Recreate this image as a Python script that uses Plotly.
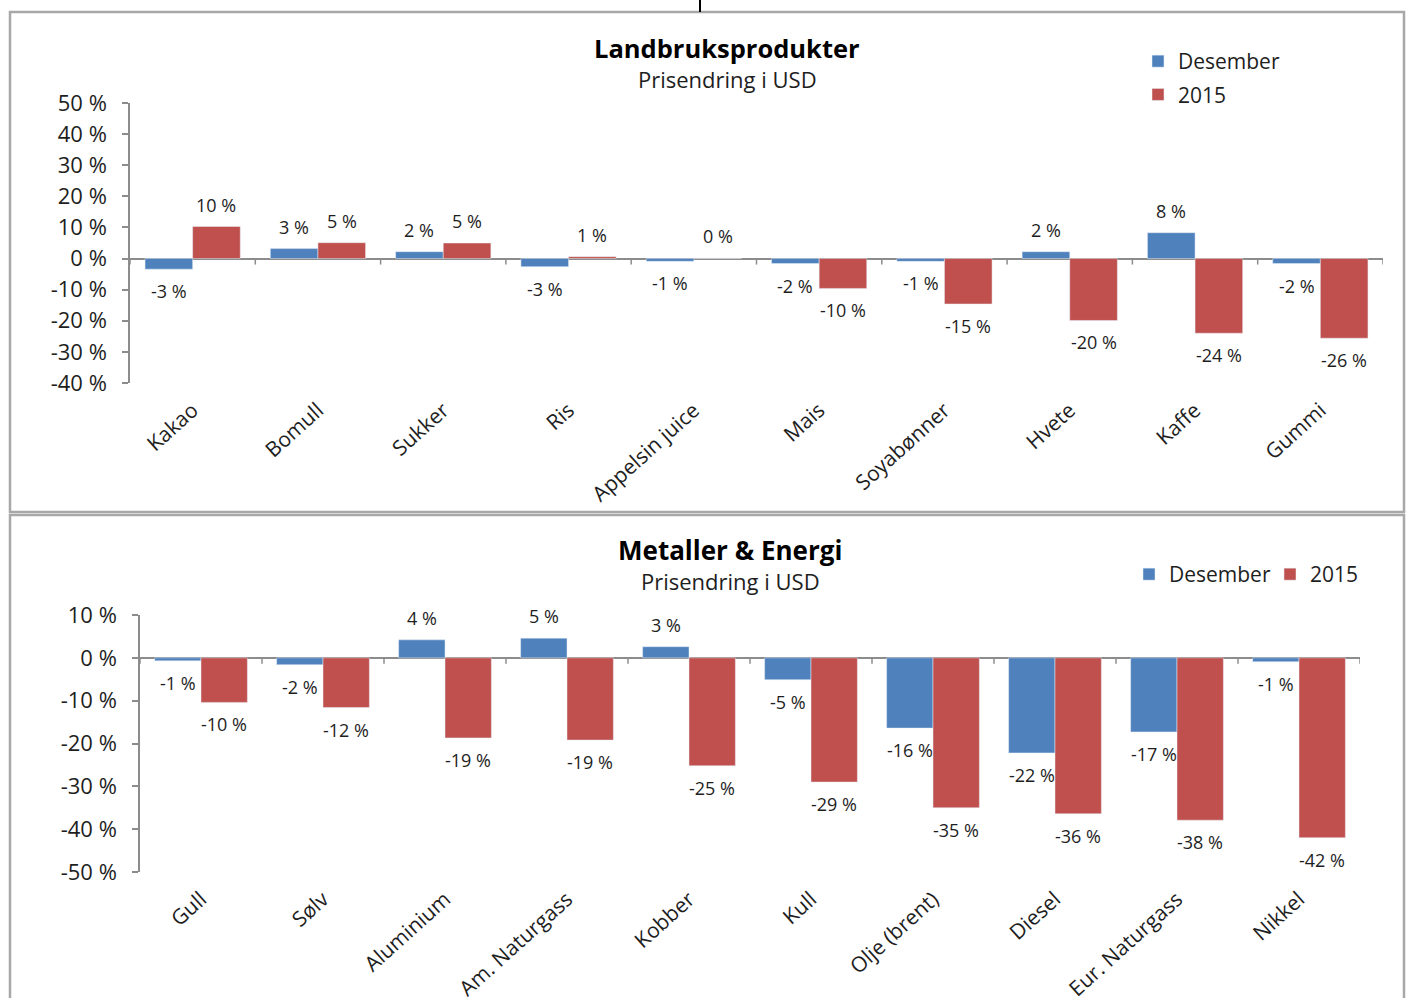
import plotly.graph_objects as go

W, H = 1408, 998

# ---------------- data ----------------
agri_cats = ["Kakao", "Bomull", "Sukker", "Ris", "Appelsin juice", "Mais",
             "Soyabønner", "Hvete", "Kaffe", "Gummi"]
agri_des = [-3.4, 3.2, 2.2, -2.6, -0.9, -1.6, -0.9, 2.2, 8.3, -1.6]
agri_2015 = [10.3, 5.1, 5.0, 0.6, 0.1, -9.6, -14.6, -19.9, -24.0, -25.6]
agri_yticks = [50, 40, 30, 20, 10, 0, -10, -20, -30, -40]

met_cats = ["Gull", "Sølv", "Aluminium", "Am. Naturgass", "Kobber", "Kull",
            "Olje (brent)", "Diesel", "Eur. Naturgass", "Nikkel"]
met_des = [-0.7, -1.6, 4.2, 4.6, 2.6, -5.1, -16.4, -22.2, -17.3, -0.9]
met_2015 = [-10.4, -11.6, -18.7, -19.2, -25.2, -29.0, -35.0, -36.4, -37.9, -42.0]
met_yticks = [10, 0, -10, -20, -30, -40, -50]

series_names = ["Desember", "2015"]
BLUE = "#4F81BD"
RED = "#C0504D"
FONT = "Open Sans"
TXT = "#1e1e1e"
AX = "#8c8c8c"

BARGAP = 0.24
half = (1 - BARGAP) / 4  # centre offset of each bar in a group


def px_x(p):
    return p / W


def px_y(p):
    return 1 - p / H


fig = go.Figure()

# top chart traces
fig.add_trace(go.Bar(x=agri_cats, y=agri_des, name=series_names[0], marker_color=BLUE,
                     xaxis="x", yaxis="y", legend="legend", legendgroup="a1"))
fig.add_trace(go.Bar(x=agri_cats, y=agri_2015, name=series_names[1], marker_color=RED,
                     xaxis="x", yaxis="y", legend="legend", legendgroup="a2"))
# bottom chart traces
fig.add_trace(go.Bar(x=met_cats, y=met_des, name=series_names[0], marker_color=BLUE,
                     xaxis="x2", yaxis="y2", legend="legend2"))
fig.add_trace(go.Bar(x=met_cats, y=met_2015, name=series_names[1], marker_color=RED,
                     xaxis="x2", yaxis="y2", legend="legend2"))

annotations = []
shapes = []


def add_labels(vals, offset, xref, yref):
    for i, v in enumerate(vals):
        pos = v >= 0
        annotations.append(dict(
            x=i + offset, y=v, xref=xref, yref=yref, text=f"{round(v):d} %",
            showarrow=False, yanchor="bottom" if pos else "top",
            yshift=8 if pos else -8, font=dict(family=FONT, size=18, color=TXT)))


add_labels(agri_des, -half, "x", "y")
add_labels(agri_2015, half, "x", "y")
add_labels(met_des, -half, "x2", "y2")
add_labels(met_2015, half, "x2", "y2")

# category boundary tick marks on the zero line
for xref, yref, n in (("x", "y", len(agri_cats)), ("x2", "y2", len(met_cats))):
    for k in range(n + 1):
        shapes.append(dict(type="line", xref=xref, yref=yref, x0=k - 0.5, x1=k - 0.5,
                           ysizemode="pixel", yanchor=0, y0=0, y1=-6,
                           line=dict(color=AX, width=1.5)))

# panel borders
shapes.append(dict(type="rect", xref="paper", yref="paper", x0=px_x(10), x1=px_x(1404),
                   y0=px_y(512), y1=px_y(12), line=dict(color="#a8a8a8", width=2.5)))
shapes.append(dict(type="rect", xref="paper", yref="paper", x0=px_x(10), x1=px_x(1404),
                   y0=px_y(1010), y1=px_y(515), line=dict(color="#a8a8a8", width=2.5)))
shapes.append(dict(type="line", xref="paper", yref="paper", x0=px_x(700), x1=px_x(700),
                   y0=px_y(0), y1=px_y(12), line=dict(color="black", width=2)))

# titles
for title, sub, cx, ty, sy, tsize in (("Landbruksprodukter", "Prisendring i USD", 727, 48, 79, 25.5),
                                      ("Metaller &amp; Energi", "Prisendring i USD", 730, 550, 581, 26)):
    annotations.append(dict(x=px_x(cx), y=px_y(ty), xref="paper", yref="paper", text=f"<b>{title}</b>",
                            showarrow=False, xanchor="center", yanchor="middle",
                            font=dict(family=FONT, size=tsize, color="black")))
    annotations.append(dict(x=px_x(cx), y=px_y(sy), xref="paper", yref="paper", text=sub,
                            showarrow=False, xanchor="center", yanchor="middle",
                            font=dict(family=FONT, size=22, color=TXT)))

xcommon = dict(type="category", tickangle=-42, showgrid=False, showline=False, ticks="",
               zeroline=False, ticklabelstandoff=10, automargin=False,
               tickfont=dict(family=FONT, size=21, color=TXT))
ycommon = dict(showgrid=False, zeroline=True, zerolinecolor=AX, zerolinewidth=1.5,
               showline=True, linecolor=AX, linewidth=1.5, ticks="outside", ticklen=6,
               tickcolor=AX, tickwidth=1.5, ticklabelstandoff=11, automargin=False,
               tickfont=dict(family=FONT, size=22, color=TXT))

fig.update_layout(
    width=W, height=H, margin=dict(l=0, r=0, t=0, b=0, autoexpand=False),
    paper_bgcolor="white", plot_bgcolor="white",
    barmode="group", bargap=BARGAP, bargroupgap=0,
    xaxis=dict(domain=[px_x(130), px_x(1383)], anchor="y", range=[-0.5, 9.5], **xcommon),
    yaxis=dict(domain=[px_y(383), px_y(103)], anchor="x", range=[-40, 50],
               tickvals=agri_yticks, ticktext=[f"{v} %" for v in agri_yticks], **ycommon),
    xaxis2=dict(domain=[px_x(140), px_x(1360)], anchor="y2", range=[-0.5, 9.5], **xcommon),
    yaxis2=dict(domain=[px_y(872), px_y(615)], anchor="x2", range=[-50, 10],
                tickvals=met_yticks, ticktext=[f"{v} %" for v in met_yticks], **ycommon),
    legend=dict(x=px_x(1138), y=px_y(41), xanchor="left", yanchor="top", orientation="v",
                tracegroupgap=3, font=dict(family=FONT, size=21, color=TXT),
                bgcolor="rgba(0,0,0,0)"),
    legend2=dict(x=px_x(1129), y=px_y(554), xanchor="left", yanchor="top", orientation="h",
                 entrywidth=96, entrywidthmode="pixels",
                 font=dict(family=FONT, size=21, color=TXT), bgcolor="rgba(0,0,0,0)"),
    annotations=annotations, shapes=shapes,
    font=dict(family=FONT, color=TXT),
)

fig.write_html("out.html")
